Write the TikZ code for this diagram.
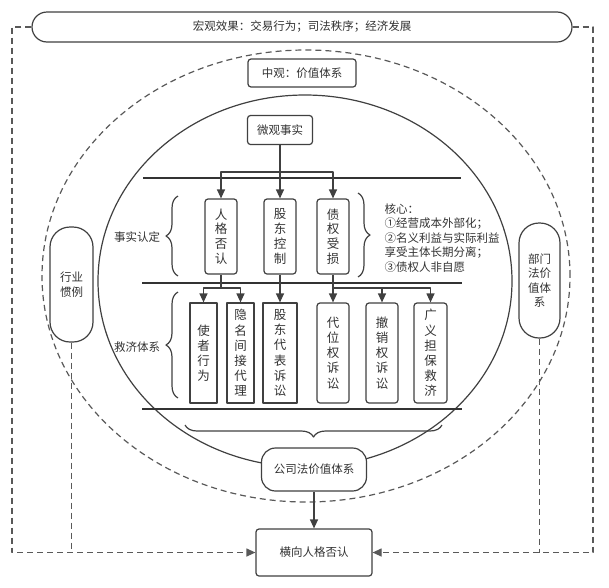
\documentclass[tikz,border=0pt]{standalone}
\usepackage{fontspec}
\setmainfont{Noto Sans CJK SC}
\usetikzlibrary{arrows.meta,shapes,decorations.pathreplacing,positioning}

\begin{document}
\begin{tikzpicture}[x=1pt,y=-1pt,>={Triangle[length=9pt,width=8pt]},line join=round]
\tikzstyle{every node}=[text=black!80,font=\fontsize{11.5}{14.5}\selectfont]
\tikzstyle{box}=[draw=black!75,line width=1.2pt,fill=white,rounded corners=3pt,inner sep=0pt,align=center]
\tikzstyle{vbox}=[box,minimum width=32pt,minimum height=75pt,font=\fontsize{12.5}{14.7}\selectfont]
\tikzstyle{rbox}=[box,minimum width=32pt,minimum height=100pt,font=\fontsize{12.5}{15.2}\selectfont]
\tikzstyle{sbox}=[rbox,rounded corners=0pt]
\tikzstyle{pill}=[box,rounded corners=20pt]
\tikzstyle{link}=[->,draw=black!75,line width=1.2pt]
\tikzstyle{side}=[draw=black!65,line width=1.2pt,dash pattern=on 6pt off 4pt]
\tikzstyle{rule}=[draw=black!80,line width=1.6pt]
\tikzstyle{curly}=[draw=black!75,line width=1.2pt,decorate,decoration={brace,amplitude=12pt}]
\useasboundingbox (0,0) rectangle (609,587);

% rings
\draw[side] (306,276) ellipse [x radius=264pt,y radius=226pt];
\draw[draw=black!75,line width=1.2pt] (305,281) ellipse [x radius=207pt,y radius=186pt];

% macro / meso / micro
\node[box,rounded corners=15pt,minimum width=540pt,minimum height=30pt] (macro) at (302,27) {宏观效果：交易行为；司法秩序；经济发展};
\node[box,minimum width=108pt,minimum height=28pt] (meso) at (302,73) {中观：价值体系};
\node[box,minimum width=65pt,minimum height=29pt] (micro) at (280,130) {微观事实};

\draw[rule] (143,178) -- (461,178);
\draw[rule] (142,283) -- (462,283);
\draw[draw=black!80,line width=1.3pt] (142,409) -- (462,409);

% facts
\node[vbox] (rg) at (221,236.5) {人\\格\\否\\认};
\node[vbox] (kz) at (280,236.5) {股\\东\\控\\制};
\node[vbox] (zq) at (333,236.5) {债\\权\\受\\损};
\node (fact) at (137,237) {事实认定};
\node[anchor=west,align=left] (core) at (381,238) {核心：\\①经营成本外部化；\\②名义利益与实际利益\\享受主体长期分离；\\③债权人非自愿};
\draw[curly] (178,276) -- (178,196);
\draw[curly] (358,193) -- (358,277);

% remedies
\node[sbox,minimum width=27pt] (sz) at (203.5,353) {使\\者\\行\\为};
\node[sbox,minimum width=27pt] (ym) at (240.5,353) {隐\\名\\间\\接\\代\\理};
\node[sbox,minimum width=34pt] (gd) at (280,353) {股\\东\\代\\表\\诉\\讼};
\node[rbox] (dw) at (333,353) {代\\位\\权\\诉\\讼};
\node[rbox] (cx) at (382,353) {撤\\销\\权\\诉\\讼};
\node[rbox,minimum width=33pt] (gy) at (430.5,353) {广\\义\\担\\保\\救\\济};
\node (remedy) at (137,347) {救济体系};
\draw[curly] (178,398) -- (178,292);
\draw[curly] (442,425) -- (185,425);

% side values
\node[pill,minimum width=43pt,minimum height=115pt] (hy) at (71.5,284.5) {行业\\惯例};
\node[pill,minimum width=41pt,minimum height=115pt] (bm) at (539.5,280.5) {部门\\法价\\值体\\系};
\node[box,rounded corners=14pt,minimum width=105pt,minimum height=43pt] (gs) at (314,469.5) {公司法价值体系};
\node[box,minimum width=116pt,minimum height=47pt] (hx) at (314,552.5) {横向人格否认};

% connectors
\coordinate (b1) at (280,172);
\coordinate (b2) at (221,288);
\coordinate (b3) at (333,288);
\draw[link] (micro) -- (kz);
\draw[link] (b1) -| (rg.north);
\draw[link] (b1) -| (zq.north);
\draw[link] (rg.south) -- (b2) -| (sz.north);
\draw[link] (b2) -| (ym.north);
\draw[link] (kz) -- (gd);
\draw[link] (zq) -- (dw);
\draw[link] (b3) -| (cx.north);
\draw[link] (b3) -| (gy.north);
\draw[link] (gs) -- (hx);

\coordinate (lc) at (12,552.5);
\coordinate (rc) at (593,552.5);
\draw[side,->] (macro.west) -| (lc) -- (hx.west);
\draw[side,->] (macro.east) -| (rc) -- (hx.east);
\draw[side] (hy.south) -- (hy.south |- lc);
\draw[side] (bm.south) -- (bm.south |- rc);
\end{tikzpicture}
\end{document}
